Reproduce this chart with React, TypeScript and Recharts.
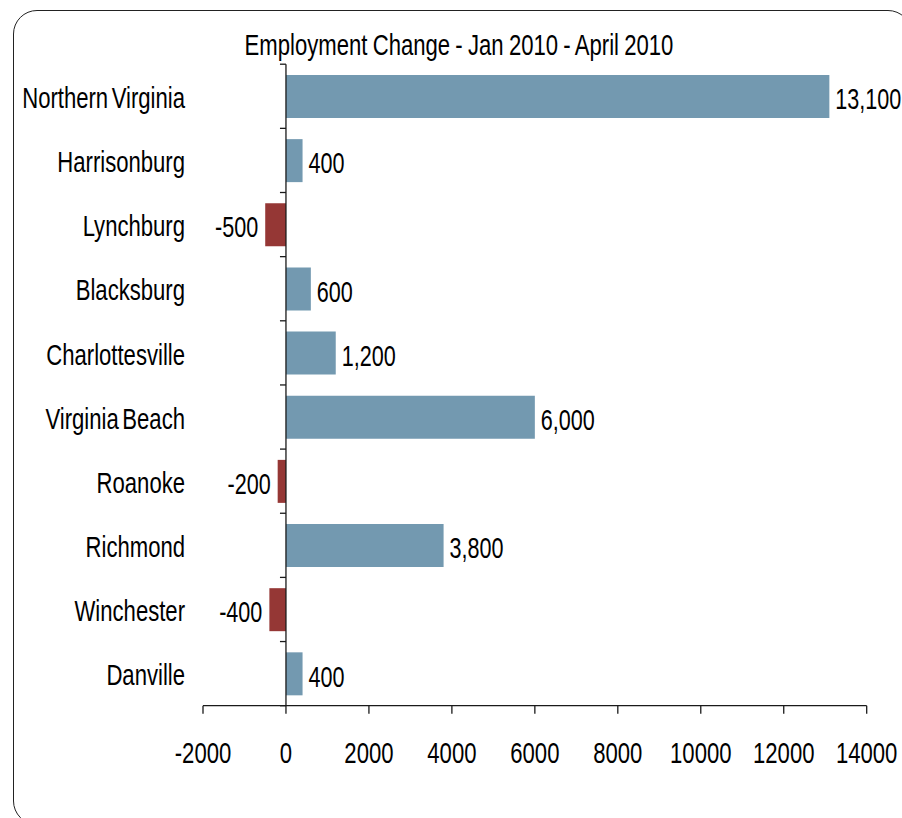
import React from 'react';
import { BarChart, Bar, XAxis, YAxis, Cell, LabelList, ReferenceLine } from 'recharts';

const categories = ['Northern Virginia', 'Harrisonburg', 'Lynchburg', 'Blacksburg', 'Charlottesville', 'Virginia Beach', 'Roanoke', 'Richmond', 'Winchester', 'Danville'];
const changes = [13100, 400, -500, 600, 1200, 6000, -200, 3800, -400, 400];
const xTicks = [-2000, 0, 2000, 4000, 6000, 8000, 10000, 12000, 14000];
const title = 'Employment Change - Jan 2010 - April 2010';

const data = categories.map((name, i) => ({ name, value: changes[i] }));

const FONT = "'Liberation Sans', Arial, sans-serif";
const FS = 26;
const SX = 0.85;
const SY = 1.15;
const BLUE = '#7399B0';
const RED = '#953735';
const INK = '#1a1a1a';

function StretchText({ x, y, anchor, children, sx = SX, wordSpacing = 0 }: { x: number; y: number; anchor: 'start' | 'middle' | 'end'; children: React.ReactNode; sx?: number; wordSpacing?: number }) {
  return (
    <text
      transform={`translate(${x},${y}) scale(${sx},${SY})`}
      textAnchor={anchor}
      dy={0.716 * FS / 2}
      fontFamily={FONT}
      fontSize={FS}
      fill="#000"
      style={{ wordSpacing }}
    >
      {children}
    </text>
  );
}

const YTick = (props: any) => {
  const { x, y, payload } = props;
  return <StretchText x={x} y={y + 1} anchor="end" wordSpacing={-3}>{payload.value}</StretchText>;
};

const XTick = (props: any) => {
  const { x, y, payload } = props;
  return <StretchText x={x} y={y + 37} anchor="middle">{payload.value}</StretchText>;
};

const ValueLabel = (props: any) => {
  const { x, y, width, height, value } = props;
  const left = Math.min(x, x + width);
  const right = Math.max(x, x + width);
  const cy = y + height / 2 + 2;
  const txt = Number(value).toLocaleString('en-US');
  if (value >= 0) return <StretchText x={right + 6} y={cy} anchor="start" sx={0.83}>{txt}</StretchText>;
  return <StretchText x={left - 7} y={cy} anchor="end" sx={0.83}>{txt}</StretchText>;
};

const ZeroAxis = (props: any) => {
  const { x1, y1, x2, y2 } = props;
  const n = categories.length;
  const ticks = [];
  for (let i = 0; i <= n; i++) {
    const ty = y1 + ((y2 - y1) * i) / n;
    ticks.push(<line key={i} x1={x1 - 6} x2={x1} y1={ty} y2={ty} stroke={INK} strokeWidth={1.3} />);
  }
  return (
    <g>
      <line x1={x1} y1={y1} x2={x2} y2={y2} stroke={INK} strokeWidth={1.3} />
      {ticks}
    </g>
  );
};

export default function App() {
  return (
    <div style={{ position: 'absolute', left: 0, top: 0, width: 902, height: 818, overflow: 'hidden', background: '#fff' }}>
      <div
        style={{
          position: 'absolute',
          left: 13,
          top: 10,
          width: 899,
          height: 815,
          border: '1.5px solid #222',
          borderRadius: 24,
          boxSizing: 'border-box',
        }}
      />
      <svg style={{ position: 'absolute', left: 0, top: 0 }} width={902} height={80}>
        <StretchText x={459} y={44} anchor="middle" sx={0.85} wordSpacing={-1}>{title}</StretchText>
      </svg>
      <div style={{ position: 'absolute', left: 0, top: 0 }}>
        <BarChart
          width={902}
          height={818}
          data={data}
          layout="vertical"
          margin={{ top: 64.2, right: 35.3, bottom: 52.3, left: 0 }}
          barCategoryGap="16.8%"
        >
          <XAxis
            type="number"
            domain={[-2000, 14000]}
            ticks={xTicks}
            allowDataOverflow
            axisLine={{ stroke: INK, strokeWidth: 1.3 }}
            tickLine={{ stroke: INK, strokeWidth: 1.3 }}
            tickSize={8}
            tickMargin={2}
            height={60}
            tick={<XTick />}
            interval={0}
          />
          <YAxis
            type="category"
            dataKey="name"
            width={203}
            axisLine={false}
            tickLine={false}
            tickSize={0}
            tickMargin={18}
            tick={<YTick />}
            interval={0}
          />
          <Bar dataKey="value" isAnimationActive={false}>
            {data.map((d, i) => (
              <Cell key={i} fill={d.value >= 0 ? BLUE : RED} />
            ))}
            <LabelList dataKey="value" content={<ValueLabel />} />
          </Bar>
          <ReferenceLine x={0} shape={<ZeroAxis />} ifOverflow="extendDomain" />
        </BarChart>
      </div>
    </div>
  );
}
